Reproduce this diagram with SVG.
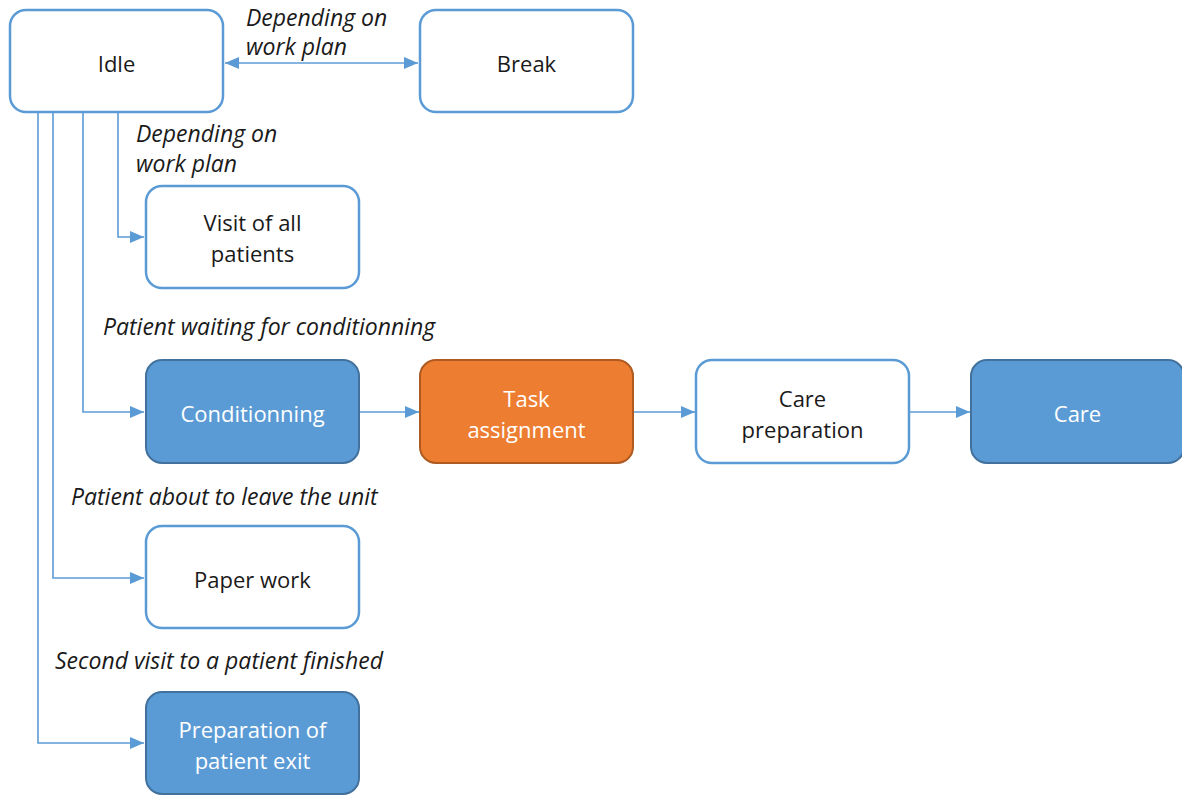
<svg xmlns="http://www.w3.org/2000/svg" width="1182" height="795" viewBox="0 0 1182 795">
  <defs>
    <marker id="arrow" viewBox="0 0 14 12" refX="14" refY="6" markerWidth="14" markerHeight="12" markerUnits="userSpaceOnUse" orient="auto-start-reverse">
      <path d="M0,0 L14,6 L0,12 Z" fill="#5B9BD5"/>
    </marker>
    <style>
      .box { fill: #FFFFFF; stroke: #5B9BD5; stroke-width: 2.5; }
      .blue { fill: #5B9BD5; stroke: #41719C; stroke-width: 2; }
      .orange { fill: #ED7D31; stroke: #AE5A21; stroke-width: 2; }
      .t { font-family: "Open Sans", "Noto Sans", "Liberation Sans", sans-serif; font-size: 22px; text-anchor: middle; dominant-baseline: central; fill: #1A1A1A; }
      .tw { fill: #FFFFFF; }
      .lbl { font-family: "Open Sans", "Noto Sans", "Liberation Sans", sans-serif; font-size: 23px; font-style: italic; fill: #1A1A1A; dominant-baseline: central; }
      .edge { fill: none; stroke: #5B9BD5; stroke-width: 1.6; marker-end: url(#arrow); }
    </style>
  </defs>
  <rect width="1182" height="795" fill="#FFFFFF"/>

  <g id="connectors">
    <path class="edge" d="M225,63 H418" marker-start="url(#arrow)"/>
    <path class="edge" d="M118,112 V237 H144"/>
    <path class="edge" d="M83,112 V412 H144"/>
    <path class="edge" d="M53,112 V578 H144"/>
    <path class="edge" d="M38,112 V743 H144"/>
    <path class="edge" d="M359,412 H419"/>
    <path class="edge" d="M633,412 H695"/>
    <path class="edge" d="M909,412 H970"/>
  </g>

  <g id="labels">
    <text class="lbl" x="246" y="17">Depending on</text>
    <text class="lbl" x="246" y="46">work plan</text>
    <text class="lbl" x="136" y="133">Depending on</text>
    <text class="lbl" x="136" y="163">work plan</text>
    <text class="lbl" x="103" y="326">Patient waiting for conditionning</text>
    <text class="lbl" x="71" y="496">Patient about to leave the unit</text>
    <text class="lbl" x="55" y="660">Second visit to a patient finished</text>
  </g>

  <g id="idle">
    <rect class="box" x="10" y="10" width="213" height="102" rx="16"/>
    <text class="t" x="116.5" y="63">Idle</text>
  </g>
  <g id="break">
    <rect class="box" x="420" y="10" width="213" height="102" rx="16"/>
    <text class="t" x="526.5" y="63">Break</text>
  </g>
  <g id="visit">
    <rect class="box" x="146" y="186" width="213" height="102" rx="16"/>
    <text class="t" x="252.5" y="222">Visit of all</text>
    <text class="t" x="252.5" y="253">patients</text>
  </g>
  <g id="conditionning">
    <rect class="blue" x="146" y="360" width="213" height="103" rx="16"/>
    <text class="t tw" x="252.5" y="413">Conditionning</text>
  </g>
  <g id="task">
    <rect class="orange" x="420" y="360" width="213" height="103" rx="16"/>
    <text class="t tw" x="526.5" y="398">Task</text>
    <text class="t tw" x="526.5" y="429">assignment</text>
  </g>
  <g id="care-prep">
    <rect class="box" x="696" y="360" width="213" height="103" rx="16"/>
    <text class="t" x="802.5" y="398">Care</text>
    <text class="t" x="802.5" y="429">preparation</text>
  </g>
  <g id="care">
    <rect class="blue" x="971" y="360" width="213" height="103" rx="16"/>
    <text class="t tw" x="1077.5" y="413">Care</text>
  </g>
  <g id="paper-work">
    <rect class="box" x="146" y="526" width="213" height="102" rx="16"/>
    <text class="t" x="252.5" y="579">Paper work</text>
  </g>
  <g id="exit-prep">
    <rect class="blue" x="146" y="692" width="213" height="102" rx="16"/>
    <text class="t tw" x="252.5" y="729">Preparation of</text>
    <text class="t tw" x="252.5" y="760">patient exit</text>
  </g>
</svg>
